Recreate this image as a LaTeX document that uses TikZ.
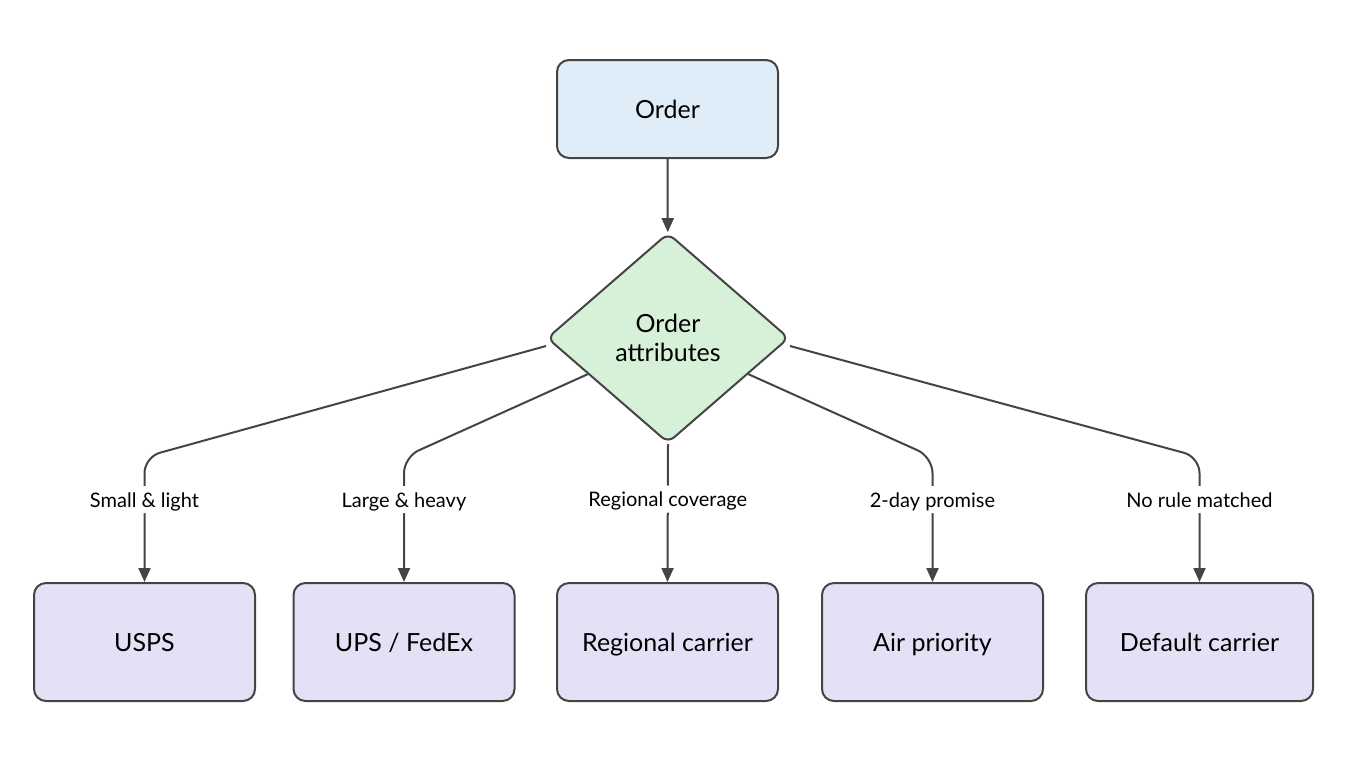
\documentclass[tikz,border=0pt]{standalone}
\usepackage{fontspec}
\setmainfont{Lato}
\usetikzlibrary{shapes.geometric,arrows.meta}
\definecolor{orderblue}{HTML}{DFEDF9}
\definecolor{attrgreen}{HTML}{D7F0D8}
\definecolor{carrierlilac}{HTML}{E3E1F5}
\definecolor{edgegray}{HTML}{444444}

\begin{document}
\begin{tikzpicture}[x=0.5pt, y=-0.5pt,
		box/.style={draw=edgegray, line width=1pt, rounded corners=6pt, minimum width=110.5pt, minimum height=49pt, text height=10.5pt, text depth=1pt, font=\fontsize{12.5}{15}\selectfont},
		carrier/.style={box, fill=carrierlilac, minimum height=59pt},
		decision/.style={diamond, draw=edgegray, line width=1pt, rounded corners=4pt, fill=attrgreen, inner sep=0pt, minimum width=121pt, minimum height=105pt, align=center, font=\fontsize{12.5}{14.5}\selectfont},
		link/.style={draw=edgegray, line width=1pt, -{Triangle[length=7pt,width=6pt]}, rounded corners=8pt},
		rule/.style={fill=white, inner sep=2pt, text height=8.5pt, text depth=1pt, font=\fontsize{10}{12}\selectfont}]
		\useasboundingbox (0,0) rectangle (1360,768);
		\node[box, fill=orderblue] (order) at (667.5,109) {Order};
		\node[decision] (attr) at (668,338) {Order\\attributes};
		\node[carrier] (usps) at (144.5,642) {USPS};
		\node[carrier] (ups) at (404,642) {UPS / FedEx};
		\node[carrier] (regional) at (667.5,642) {Regional carrier};
		\node[carrier] (air) at (932.5,642) {Air priority};
		\node[carrier, minimum width=113.5pt] (default) at (1199.5,642) {Default carrier};
		\coordinate (turn) at (0,457);
		\draw[link] (order) -- (attr);
		\draw[link] ([yshift=-4pt]attr.west) -- (usps.north |- turn) -- node[rule, pos=0.34] {Small \& light} (usps.north);
		\draw[link] (attr) -- (ups.north |- turn) -- node[rule, pos=0.34] {Large \& heavy} (ups.north);
		\draw[link] (attr.south) -- node[rule, pos=0.4] {Regional coverage} (regional.north);
		\draw[link] (attr) -- (air.north |- turn) -- node[rule, pos=0.34] {2-day promise} (air.north);
		\draw[link] ([yshift=-4pt]attr.east) -- (default.north |- turn) -- node[rule, pos=0.34] {No rule matched} (default.north);
	\end{tikzpicture}
\end{document}
